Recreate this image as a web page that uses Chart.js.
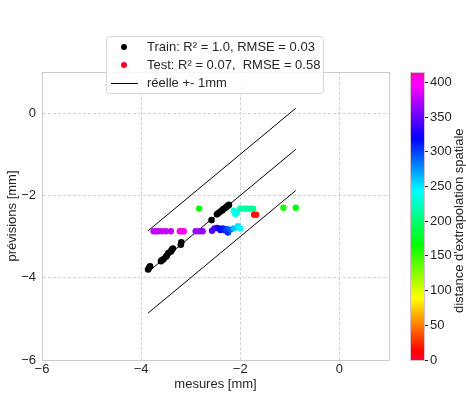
<!DOCTYPE html>
<html>
<head>
<meta charset="utf-8">
<script src="https://cdn.jsdelivr.net/npm/chart.js@4.4.0/dist/chart.umd.min.js"></script>
<style>
  html, body { margin: 0; padding: 0; background: #fff; }
  #wrap { position: relative; width: 466px; height: 396px; font-family: "Liberation Sans", Arial, sans-serif; color: #262626; }
  #mainBox { position: absolute; left: 0; top: 0; width: 466px; height: 396px; }
  #cbarBox { position: absolute; left: 400px; top: 0; width: 66px; height: 396px; }
  .legend { position: absolute; left: 106px; top: 36px; width: 216px; height: 56px; border: 1px solid #d6d6d6; border-radius: 4px; background: rgba(255,255,255,0.8); font-size: 13px; }
  .legend .row { position: absolute; left: 0; height: 18px; line-height: 18px; white-space: nowrap; }
  .legend .dot { position: absolute; left: 14px; top: 6px; width: 6px; height: 6px; border-radius: 50%; }
  .legend .ln { position: absolute; left: 4px; top: 9px; width: 27px; height: 1px; background: #000; }
  .legend .txt { position: absolute; left: 40px; top: 0; }
  .cblabel { position: absolute; left: 451px; top: 125px; height: 192px; font-size: 13px; line-height: 15px; white-space: nowrap; writing-mode: vertical-rl; transform: rotate(180deg); text-align: center; }
</style>
</head>
<body>
<div id="wrap">
  <div id="mainBox"><canvas id="mainChart"></canvas></div>
  <div id="cbarBox"><canvas id="cbarChart"></canvas></div>
  <div class="legend">
    <div class="row" style="top:1px"><span class="dot" style="background:#000"></span><span class="txt">Train: R² = 1.0, RMSE = 0.03</span></div>
    <div class="row" style="top:19px"><span class="dot" style="background:#ff0029"></span><span class="txt">Test: R² = 0.07,&nbsp; RMSE = 0.58</span></div>
    <div class="row" style="top:37px"><span class="ln"></span><span class="txt">réelle +- 1mm</span></div>
  </div>
  <div class="cblabel">distance d'extrapolation spatiale</div>
</div>
<script>
// training set (measured vs predicted, mm)
const trainX = [-3.86, -3.84, -3.82, -3.60, -3.58, -3.55, -3.50, -3.48, -3.45, -3.40, -3.38, -3.36, -3.20, -3.19, -2.58, -2.47, -2.44, -2.40, -2.36, -2.34, -2.30, -2.27, -2.25, -2.23];
const trainY = [-3.80, -3.76, -3.72, -3.60, -3.57, -3.55, -3.49, -3.46, -3.40, -3.36, -3.32, -3.29, -3.20, -3.14, -2.60, -2.46, -2.43, -2.39, -2.36, -2.33, -2.30, -2.27, -2.25, -2.23];

// test set with spatial extrapolation distance
const testX = [-3.75, -3.70, -3.65, -3.58, -3.50, -3.40, -3.22, -3.18, -3.14,
               -2.90, -2.82, -2.76,
               -2.57, -2.52, -2.47, -2.43, -2.40, -2.35, -2.30, -2.27, -2.25, -2.20,
               -2.13, -2.05, -2.00,
               -2.83, -2.29, -2.00, -1.95, -1.90, -1.85, -1.79, -1.74,
               -2.13, -2.10, -2.07, -1.72, -1.68, -1.13, -0.88];
const testY = [-2.87, -2.87, -2.87, -2.87, -2.87, -2.87, -2.87, -2.87, -2.87,
               -2.87, -2.87, -2.87,
               -2.86, -2.80, -2.79, -2.80, -2.84, -2.80, -2.85, -2.82, -2.90, -2.83,
               -2.80, -2.75, -2.80,
               -2.32, -2.30, -2.32, -2.32, -2.32, -2.32, -2.32, -2.32,
               -2.37, -2.45, -2.42, -2.47, -2.47, -2.30, -2.30];
const testDist = [375, 376, 378, 378, 380, 378, 400, 402, 400,
                  365, 365, 362,
                  345, 340, 335, 325, 320, 315, 310, 300, 305, 290,
                  262, 250, 245,
                  165, 160, 215, 215, 218, 215, 212, 210,
                  235, 238, 236, 15, 18, 160, 165];

// reference lines y = x, y = x + 1, y = x - 1
const refX = [-3.86, -0.88];
const refMid = [-3.86, -0.88];
const refUp = [-2.86, 0.12];
const refLow = [-4.86, -1.88];

const distMax = 415;
const cbTicks = [0, 50, 100, 150, 200, 250, 300, 350, 400];

// gist_rainbow colormap
const cmapStops = [
    [0.000, [255, 0, 41]],
    [0.030, [255, 0, 0]],
    [0.215, [255, 255, 0]],
    [0.400, [0, 255, 0]],
    [0.586, [0, 255, 255]],
    [0.770, [0, 0, 255]],
    [0.954, [255, 0, 255]],
    [1.000, [255, 0, 191]]
];
const cmap = function(v) {
    const t = Math.max(0, Math.min(1, v / distMax));
    for (let i = 1; i < cmapStops.length; i++) {
        const [t1, c1] = cmapStops[i];
        const [t0, c0] = cmapStops[i - 1];
        if (t <= t1) {
            const f = (t - t0) / (t1 - t0);
            const c = c0.map((a, k) => Math.round(a + (c1[k] - a) * f));
            return 'rgb(' + c.join(',') + ')';
        }
    }
    return 'rgb(255,0,191)';
};

const pts = (xs, ys) => xs.map((x, i) => ({ x: x, y: ys[i] }));
const minus = v => (v < 0 ? '\u2212' + Math.abs(v) : String(v));

const FONT = { family: '"Liberation Sans", Arial, sans-serif', size: 13 };
const TXT = '#262626';

// light box round the plot area
const frame = {
    id: 'frame',
    afterDraw(chart) {
        const a = chart.chartArea, ctx = chart.ctx;
        ctx.save();
        ctx.strokeStyle = '#cccccc';
        ctx.lineWidth = 1;
        ctx.strokeRect(Math.round(a.left) + 0.5, Math.round(a.top) + 0.5, Math.round(a.right - a.left), Math.round(a.bottom - a.top));
        ctx.restore();
    }
};

new Chart(document.getElementById('mainChart'), {
    type: 'scatter',
    data: {
        datasets: [
            { label: 'train', data: pts(trainX, trainY), backgroundColor: '#000', borderWidth: 0, pointRadius: 3.3 },
            { label: 'test', data: pts(testX, testY), backgroundColor: testDist.map(cmap), borderWidth: 0, pointRadius: 3.2 },
            { label: 'mid', type: 'line', data: pts(refX, refMid), borderColor: '#000', borderWidth: 1, pointRadius: 0, fill: false },
            { label: 'up', type: 'line', data: pts(refX, refUp), borderColor: '#000', borderWidth: 1, pointRadius: 0, fill: false },
            { label: 'low', type: 'line', data: pts(refX, refLow), borderColor: '#000', borderWidth: 1, pointRadius: 0, fill: false }
        ]
    },
    options: {
        responsive: true,
        maintainAspectRatio: false,
        animation: false,
        layout: { padding: { left: 0, right: 77, top: 72, bottom: 0 } },
        plugins: { legend: { display: false }, tooltip: { enabled: false } },
        scales: {
            x: {
                type: 'linear', min: -6, max: 1,
                ticks: { stepSize: 2, includeBounds: false, padding: 2, color: TXT, font: FONT, callback: minus },
                grid: { color: '#d2d2d2', drawTicks: false },
                border: { display: true, color: '#cccccc', dash: [3, 2] },
                title: { display: true, text: 'mesures [mm]', color: TXT, font: FONT, padding: { top: 0, bottom: 4 } },
                afterFit(s) { s.height = 36; }
            },
            y: {
                type: 'linear', min: -6, max: 1,
                ticks: { stepSize: 2, includeBounds: false, padding: 6, color: TXT, font: FONT, callback: minus },
                grid: { color: '#d2d2d2', drawTicks: false },
                border: { display: true, color: '#cccccc', dash: [3, 2] },
                title: { display: true, text: 'prévisions [mm]', color: TXT, font: FONT, padding: { top: 5, bottom: 0 } },
                afterFit(s) { s.width = 42; }
            }
        }
    },
    plugins: [frame]
});

// colour bar: gradient filled over its own chart area, ticks from a linear scale
const cbarFill = {
    id: 'cbarFill',
    beforeDatasetsDraw(chart) {
        const a = chart.chartArea, ctx = chart.ctx;
        const g = ctx.createLinearGradient(0, a.bottom, 0, a.top);
        cmapStops.forEach(s => g.addColorStop(s[0], 'rgb(' + s[1].join(',') + ')'));
        ctx.save();
        ctx.fillStyle = g;
        ctx.fillRect(a.left, a.top, a.right - a.left, a.bottom - a.top);
        ctx.strokeStyle = 'rgba(215,190,205,1)';
        ctx.lineWidth = 1;
        ctx.strokeRect(Math.round(a.left) + 0.5, Math.round(a.top) + 0.5, Math.round(a.right - a.left) - 1, Math.round(a.bottom - a.top));
        ctx.restore();
    }
};

new Chart(document.getElementById('cbarChart'), {
    type: 'scatter',
    data: { datasets: [{ data: [] }] },
    options: {
        responsive: true,
        maintainAspectRatio: false,
        animation: false,
        layout: { padding: { left: 10, right: 0, top: 72, bottom: 36 } },
        plugins: { legend: { display: false }, tooltip: { enabled: false } },
        scales: {
            x: { display: false, min: 0, max: 1 },
            y: {
                position: 'right', min: 0, max: distMax,
                afterBuildTicks(s) { s.ticks = cbTicks.map(v => ({ value: v })); },
                ticks: { padding: 2, color: TXT, font: FONT },
                grid: { drawOnChartArea: false, drawTicks: true, tickLength: 3, color: TXT },
                border: { display: false },
                afterFit(s) { s.width = 41; }
            }
        }
    },
    plugins: [cbarFill]
});
</script>
</body>
</html>
